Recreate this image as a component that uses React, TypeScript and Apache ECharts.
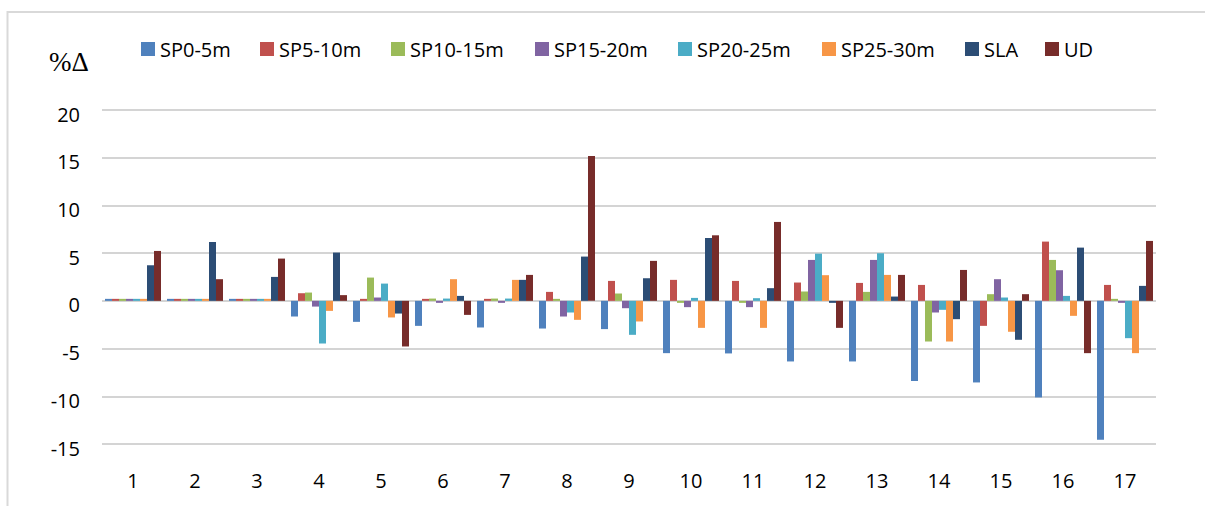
import React, { useEffect, useRef } from "react";
import * as echarts from "echarts";

const categories = ["1","2","3","4","5","6","7","8","9","10","11","12","13","14","15","16","17"];
const seriesNames = ["SP0-5m","SP5-10m","SP10-15m","SP15-20m","SP20-25m","SP25-30m","SLA","UD"];
const seriesColors = ["#4F81BD","#C0504D","#9BBB59","#8064A2","#4BACC6","#F79646","#2C4D75","#772C2A"];

const sp0_5 = [0,0,0,-1.64,-2.2,-2.62,-2.79,-2.9,-2.96,-5.48,-5.51,-6.35,-6.35,-8.4,-8.55,-10.12,-14.55];
const sp5_10 = [0,0,0,0.8,0.1,0.1,0.1,0.94,2.09,2.2,2.09,1.92,1.88,1.67,-2.62,6.21,1.67];
const sp10_15 = [0,0,0,0.87,2.44,0.24,0.24,0,0.77,-0.05,-0.1,0.98,0.94,-4.26,0.7,4.29,0];
const sp15_20 = [0,0,0,-0.6,0.35,-0.1,-0.1,-1.64,-0.77,-0.66,-0.66,4.29,4.29,-1.22,2.27,3.21,-0.05];
const sp20_25 = [0,0,0,-4.47,1.81,0.24,0.24,-1.22,-3.56,0.31,0.28,4.95,4.99,-0.94,0.35,0.52,-3.91];
const sp25_30 = [0,0,0,-1.05,-1.74,2.27,2.2,-1.99,-2.16,-2.83,-2.83,2.69,2.72,-4.26,-3.24,-1.57,-5.48];
const sla = [3.73,6.17,2.51,5.06,-1.33,0.52,2.2,4.64,2.37,6.59,1.33,-0.1,0.45,-1.92,-4.08,5.58,1.57];
const ud = [5.23,2.27,4.43,0.6,-4.78,-1.47,2.72,15.17,4.19,6.87,8.27,-2.83,2.72,3.24,0.7,-5.48,6.28];

const seriesData = [sp0_5, sp5_10, sp10_15, sp15_20, sp20_25, sp25_30, sla, ud];
const legendLefts = [141, 260, 391, 535, 678, 822, 965, 1045];

const FONT = "'Open Sans', 'Noto Sans', sans-serif";

export default function App() {
  const ref = useRef<HTMLDivElement>(null);
  useEffect(() => {
    document.body.style.margin = "0";
    if (!ref.current) return;
    const chart = echarts.init(ref.current, null, { renderer: "svg" });
    chart.setOption({
      animation: false,
      backgroundColor: "#ffffff",
      graphic: [
        {
          type: "rect",
          shape: { x: 7.5, y: 12, width: 1220, height: 520 },
          style: { fill: "none", stroke: "#d9d9d9", lineWidth: 2 },
          z: -1,
        },
        {
          type: "text",
          x: 49,
          y: 62,
          style: {
            text: "%Δ",
            font: "27px 'Liberation Serif', 'DejaVu Serif', serif",
            fill: "#000",
            textVerticalAlign: "middle",
          },
        },
      ],
      legend: seriesNames.map((n, i) => ({
        data: [n],
        left: legendLefts[i],
        top: 39,
        itemWidth: 14,
        itemHeight: 14,
        itemGap: 0,
        icon: "rect",
        padding: 0,
        textStyle: { fontFamily: FONT, fontSize: 20, color: "#000" },
      })),
      grid: { left: 102, right: 49, top: 110, bottom: 62, containLabel: false },
      xAxis: {
        type: "category",
        data: categories,
        axisLine: { show: false, onZero: false },
        axisTick: { show: false },
        axisLabel: { fontFamily: FONT, fontSize: 20, color: "#000", margin: 26 },
        splitLine: { show: false },
      },
      yAxis: {
        type: "value",
        min: -15,
        max: 20,
        interval: 5,
        axisLine: { show: false },
        axisTick: { show: false },
        axisLabel: {
          fontFamily: FONT,
          fontSize: 20,
          color: "#000",
          margin: 22,
          verticalAlign: "top",
          lineHeight: 20,
          padding: [-6, 0, 0, 0],
        },
        splitLine: { lineStyle: { color: "#d4d4d4", width: 2 } },
      },
      series: seriesNames.map((n, i) => ({
        name: n,
        type: "bar",
        data: seriesData[i],
        barWidth: 7,
        barGap: "0%",
        barMinHeight: 2,
        itemStyle: { color: seriesColors[i] },
      })),
    });
    return () => chart.dispose();
  }, []);
  return <div ref={ref} style={{ width: 1205, height: 506 }} />;
}
